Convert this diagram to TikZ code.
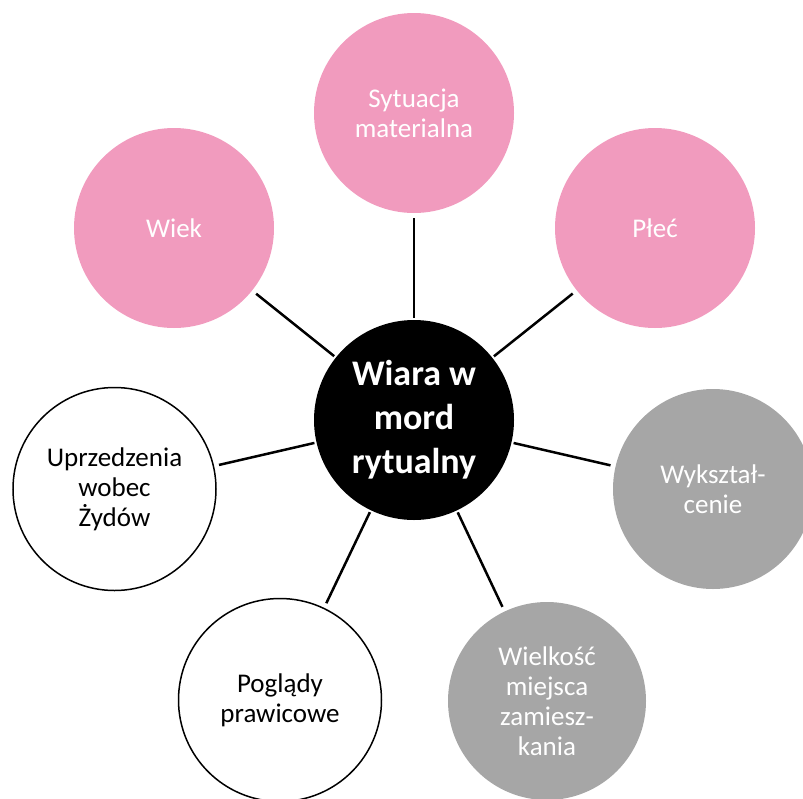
\documentclass[tikz,border=0pt]{standalone}
\usepackage{fontspec}
\setmainfont{Carlito}
\definecolor{pinkc}{RGB}{241,155,190}
\definecolor{grayc}{RGB}{166,166,166}
\begin{document}
\begin{tikzpicture}[x=1pt,y=-1pt,
  bub/.style={circle,minimum size=200pt,inner sep=0pt,align=center,font=\fontsize{27}{30}\selectfont},
  pinkbub/.style={bub,fill=pinkc,text=white},
  graybub/.style={bub,fill=grayc,text=white},
  whitebub/.style={bub,draw=black,line width=1.5pt,fill=white,text=black,minimum size=203pt},
  conn/.style={line width=2.5pt,shorten <=5pt,shorten >=2pt}]
\useasboundingbox (0,0) rectangle (803,798);
\clip (0,0) rectangle (803,798);
\node[circle,fill=black,minimum size=200pt,inner sep=0pt,align=center,text=white,
      font=\fontsize{36}{44}\selectfont\bfseries] (c) at (414,420) {Wiara w\\mord\\rytualny};
\node[pinkbub] (syt) at (414,113) {Sytuacja\\materialna};
\node[pinkbub] (wiek) at (174,228) {Wiek};
\node[pinkbub] (plec) at (655,228) {Płeć};
\node[graybub] (wyk) at (713,489) {Wykształ-\\cenie};
\node[graybub,minimum size=198pt] (wiel) at (547,701) {Wielkość\\miejsca\\zamiesz-\\kania};
\node[whitebub] (pog) at (280,700) {Poglądy\\prawicowe};
\node[whitebub] (upr) at (114.5,489) {Uprzedzenia\\wobec\\Żydów};
\foreach \n in {syt,wiek,plec,wyk,wiel,pog,upr}
  \draw[conn] (\n) -- (c);
\end{tikzpicture}
\end{document}
